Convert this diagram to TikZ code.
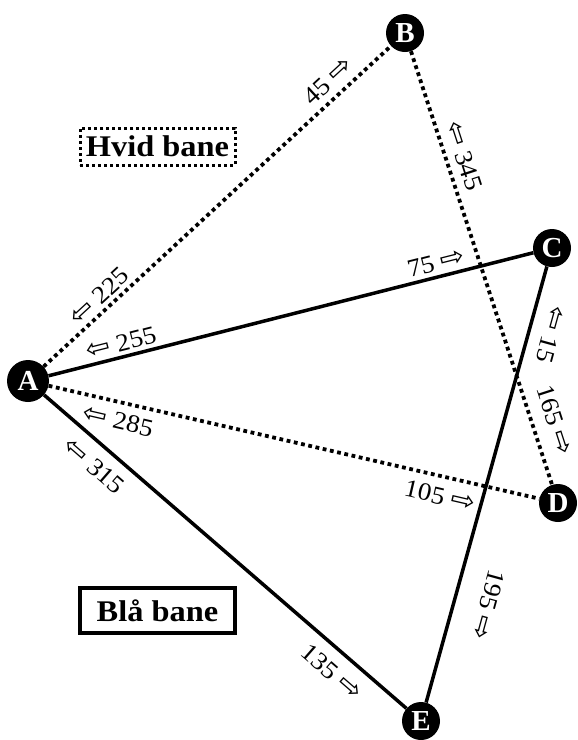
\documentclass[tikz,border=0pt]{standalone}
\usepackage{fontspec}
\setmainfont{Liberation Serif}
\newfontfamily\arrowfont{DejaVu Sans}
\newcommand{\larrw}{{\arrowfont\fontsize{27}{27}\selectfont ⇦}}
\newcommand{\rarrw}{{\arrowfont\fontsize{27}{27}\selectfont ⇨}}
\newcommand{\mywide}[1]{\scalebox{1.08}[1]{#1}}
\begin{document}
\begin{tikzpicture}[x=1pt,y=-1pt,
  stn/.style={circle, fill=black, text=white, inner sep=0pt, minimum size=38pt,
    font=\bfseries\fontsize{29}{29}\selectfont},
  solidln/.style={line width=3.5pt},
  dotln/.style={line width=3.8pt, dash pattern=on 3.8pt off 3.6pt},
  lbl/.style={inner sep=0pt, font=\fontsize{25}{25}\selectfont},
  legend/.style={inner sep=0pt, minimum width=155pt, font=\bfseries\fontsize{30}{30}\selectfont}]
\useasboundingbox (0,0) rectangle (578,740);
% stations
\node[stn, minimum size=42pt] (A) at (28,381) {A};
\node[stn] (B) at (405,33) {B};
\node[stn] (C) at (552,248) {C};
\node[stn] (D) at (558,503) {D};
\node[stn] (E) at (421,721) {E};
% connectors
\draw[dotln] (A) -- (B);
\draw[dotln] (B) -- (D);
\draw[dotln] (A) -- (D);
\draw[solidln] (A) -- (C);
\draw[solidln] (A) -- (E);
\draw[solidln] (C) -- (E);
% labels
\node[lbl, rotate=42.7] (l45) at (328,81) {\mywide{45 \rarrw}};
\node[lbl, rotate=42.7] (l225) at (99,296) {\mywide{\larrw\ 225}};
\node[lbl, rotate=14.2] (l255) at (121,343) {\mywide{\larrw\ 255}};
\node[lbl, rotate=14.2] (l75) at (436,263) {\mywide{75 \rarrw}};
\node[lbl, rotate=-13] (l285) at (118,421) {\mywide{\larrw\ 285}};
\node[lbl, rotate=-13] (l105) at (440,496) {\mywide{105 \rarrw}};
\node[lbl, rotate=-41] (l315) at (94,466) {\mywide{\larrw\ 315}};
\node[lbl, rotate=-41] (l135) at (332,672) {\mywide{135 \rarrw}};
\node[lbl, rotate=-72] (l345) at (464,156) {\mywide{\larrw\ 345}};
\node[lbl, rotate=-72] (l165) at (555,420) {\mywide{165 \rarrw}};
\node[lbl, rotate=-105.4] (l15) at (551,335) {\mywide{\larrw\ 15}};
\node[lbl, rotate=-105.4] (l195) at (488,605) {\mywide{195 \rarrw}};
% legend boxes
\node[legend, draw, line width=3pt, dash pattern=on 3pt off 3pt, minimum height=37pt] (hvid) at (157.5,146.5) {\mywide{Hvid bane}};
\node[legend, draw, line width=3.5pt, minimum height=45pt] (blaa) at (157.5,610.5) {\mywide{Blå bane}};
\end{tikzpicture}
\end{document}
